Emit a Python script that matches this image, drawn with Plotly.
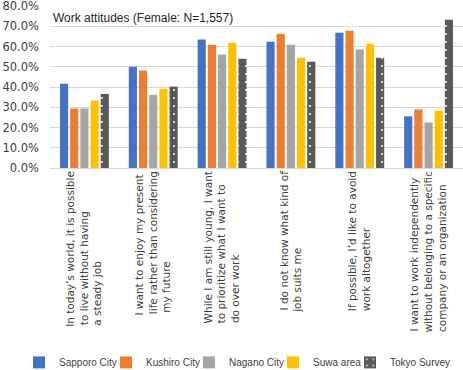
import plotly.graph_objects as go

# ---- data ----
categories = [
    ["In today’s world, it is possible", "to live without having", "a steady job"],
    ["I want to enjoy my present", "life rather than considering", "my future"],
    ["While I am still young, I want", "to prioritize what I want to", "do over work"],
    ["I do not know what kind of", "job suits me"],
    ["If possible, I’d like to avoid", "work altogether"],
    ["I want to work independently", "without belonging to a specific", "company or an organization"],
]
series_names = ["Sapporo City", "Kushiro City", "Nagano City", "Suwa area", "Tokyo Survey"]
sapporo = [41.6, 50.0, 63.4, 62.4, 66.8, 25.5]
kushiro = [29.4, 48.1, 60.9, 66.3, 67.8, 28.9]
nagano = [29.4, 36.1, 56.0, 60.9, 58.5, 22.5]
suwa = [33.3, 39.1, 61.9, 54.5, 61.4, 28.4]
tokyo = [36.6, 40.2, 54.0, 52.5, 54.5, 73.2]
y_ticks = [0, 10, 20, 30, 40, 50, 60, 70, 80]
y_tick_labels = ["0.0%", "10.0%", "20.0%", "30.0%", "40.0%", "50.0%", "60.0%", "70.0%", "80.0%"]
title_text = "Work attitudes (Female: N=1,557)"

# ---- helpers: left-align multi-line rotated tick labels (DejaVu Sans advance widths) ----
W = {' ': .318, '’': .318, "'": .275, ',': .318, '.': .318,
     'a': .613, 'b': .635, 'c': .550, 'd': .635, 'e': .615, 'f': .352, 'g': .635,
     'h': .634, 'i': .278, 'j': .278, 'k': .579, 'l': .278, 'm': .974, 'n': .634,
     'o': .612, 'p': .635, 'q': .635, 'r': .411, 's': .521, 't': .392, 'u': .634,
     'v': .592, 'w': .818, 'x': .592, 'y': .592, 'z': .525, 'I': .295, 'W': .989}


def tw(s):
    return sum(W.get(c, .6) for c in s)


def left_align(lines):
    m = max(tw(l) for l in lines)
    return "<br>".join(l + "\u00a0" * round((m - tw(l)) / .318) for l in lines)


labels = [left_align(c) for c in categories]

colors = ["#4472C4", "#ED7D31", "#A5A5A5", "#FFC000", "#595959"]
values = [sapporo, kushiro, nagano, suwa, tokyo]
leg_w = [42, 38, 39, 32, 64]

fig = go.Figure()
for i, (name, vals) in enumerate(zip(series_names, values)):
    marker = dict(color=colors[i], line=dict(width=0))
    if i == 4:
        marker = dict(color="#595959", line=dict(width=0),
                      pattern=dict(shape=".", fgcolor="#FFFFFF", bgcolor="#595959",
                                   size=8, solidity=0.05, fillmode="replace"))
    fig.add_trace(go.Bar(x=labels, y=vals, name=name, marker=marker,
                         legendwidth=leg_w[i]))

fig.update_layout(
    width=463, height=370,
    margin=dict(l=50, r=0, t=6, b=202, autoexpand=False),
    paper_bgcolor="white", plot_bgcolor="white",
    barmode="group", bargap=0.26, bargroupgap=0.2,
    font=dict(family="Liberation Sans, Arial, sans-serif", color="#404040", size=12),
    showlegend=True,
    legend=dict(orientation="h", x=-0.075, xanchor="left", y=-1.2, yanchor="middle",
                font=dict(size=10, color="#404040"), itemwidth=30,
                bgcolor="rgba(0,0,0,0)", traceorder="normal"),
    annotations=[dict(text=title_text, xref="paper", yref="paper", x=0.003, y=0.927,
                      xanchor="left", yanchor="middle", showarrow=False,
                      font=dict(size=12, color="#262626"))],
)
fig.update_xaxes(tickangle=-90, showgrid=False, showline=False, ticks="",
                 automargin=False,
                 tickfont=dict(family="DejaVu Sans", size=10.5, color="#404040"))
fig.update_yaxes(range=[0, 80], tickvals=y_ticks, ticktext=y_tick_labels,
                 showgrid=True, gridcolor="#D9D9D9", gridwidth=1,
                 zeroline=True, zerolinecolor="#D9D9D9", zerolinewidth=1,
                 showline=False, ticks="", ticklabelstandoff=10, automargin=False,
                 ticklabeloverflow="allow",
                 tickfont=dict(family="DejaVu Sans", size=11.5, color="#404040"))

fig.write_html("out.html", config={"displayModeBar": False},
               post_script="document.body.style.margin='0';document.body.style.padding='0';")
